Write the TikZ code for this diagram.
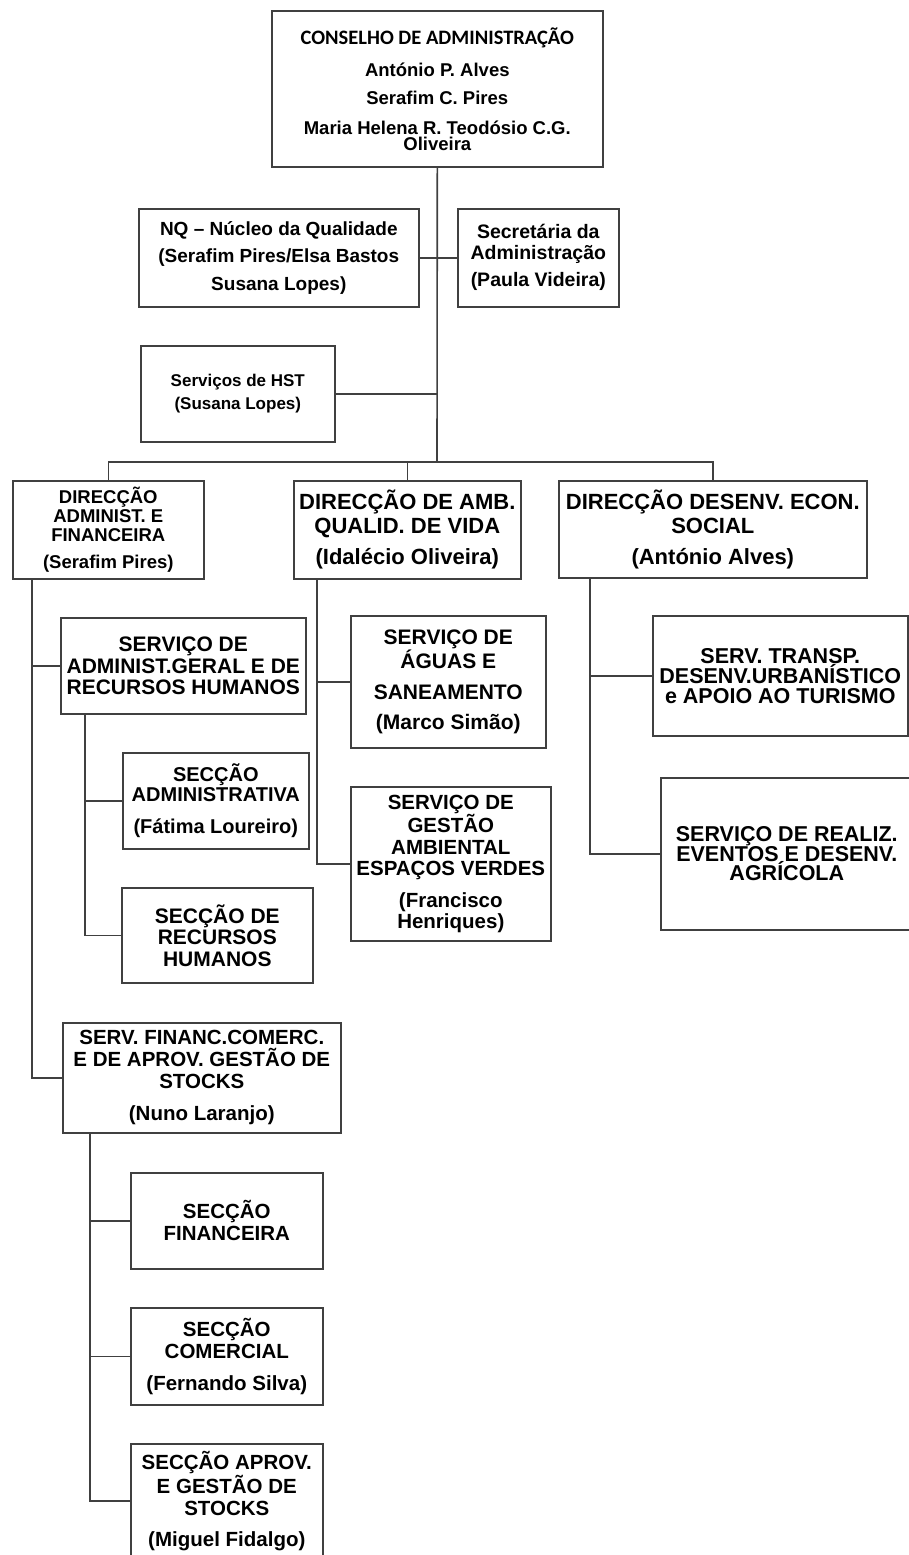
\documentclass[tikz,border=0pt]{standalone}
\usepackage{fontspec}
\setmainfont{Liberation Sans}
\newfontfamily\calfont{Carlito}
\begin{document}
\begin{tikzpicture}[x=1pt,y=-1pt,
	box/.style={draw=black!75,line width=1.6pt,anchor=north west,align=center,inner xsep=1pt,inner ysep=1pt},
	fs/.style 2 args={font=\fontsize{#1}{#2}\selectfont\bfseries},
	link/.style={draw=black!75,line width=1.6pt}]
\useasboundingbox (0,0) rectangle (908,1555);
\node[box,fs={18.5}{16},minimum width=331pt,minimum height=156pt] (cons) at (271,10)
	{{\calfont\fontsize{20.5}{16}\selectfont CONSELHO DE ADMINISTRAÇÃO}\\[14pt]António P. Alves\\[12pt]Serafim C. Pires\\[14pt]Maria Helena R. Teodósio C.G.\\Oliveira};
\node[box,fs={19}{19},minimum width=280pt,minimum height=98pt] (nq) at (138,208)
	{NQ – Núcleo da Qualidade\\[8pt](Serafim Pires/Elsa Bastos\\[9pt]Susana Lopes)};
\node[box,fs={19.5}{21},minimum width=161pt,minimum height=98pt] (sec) at (457,208)
	{Secretária da\\Administração\\[6pt](Paula Videira)};
\node[box,fs={17}{17},minimum width=194pt,minimum height=96pt] (hst) at (140,345)
	{Serviços de HST\\[6pt](Susana Lopes)};
\coordinate (bus) at (437,462);
\node[box,fs={18.5}{19},minimum width=191pt,minimum height=98pt] (dAF) at (12,480)
	{DIRECÇÃO\\ADMINIST. E\\FINANCEIRA\\[8pt](Serafim Pires)};
\node[box,fs={22}{22},minimum width=227pt,minimum height=98pt] (dAQ) at (293,480)
	{DIRECÇÃO DE AMB.\\[2pt]QUALID. DE VIDA\\[9pt](Idalécio Oliveira)};
\node[box,fs={22}{22},minimum width=308pt,minimum height=97pt] (dDE) at (558,480)
	{DIRECÇÃO DESENV. ECON.\\[2pt]SOCIAL\\[9pt](António Alves)};
\node[box,fs={21}{21.5},minimum width=245pt,minimum height=96pt] (sagr) at (60,617)
	{SERVIÇO DE\\ADMINIST.GERAL E DE\\RECURSOS HUMANOS};
\node[box,fs={20}{20},minimum width=186pt,minimum height=96pt] (secadm) at (122,752)
	{SECÇÃO\\ADMINISTRATIVA\\[12pt](Fátima Loureiro)};
\node[box,fs={21}{21.5},minimum width=191pt,minimum height=95pt] (secrh) at (121,887)
	{SECÇÃO DE\\RECURSOS\\HUMANOS};
\node[box,fs={21}{20},minimum width=195pt,minimum height=132pt] (agu) at (350,615)
	{SERVIÇO DE\\ÁGUAS E\\[11pt]SANEAMENTO\\[10pt](Marco Simão)};
\node[box,fs={20.5}{21.5},minimum width=200pt,minimum height=154pt] (gam) at (350,786)
	{SERVIÇO DE\\GESTÃO\\AMBIENTAL\\ESPAÇOS VERDES\\[10pt](Francisco\\Henriques)};
\node[box,fs={21.5}{20},minimum width=255pt,minimum height=120pt] (tra) at (652,615)
	{SERV. TRANSP.\\DESENV.URBANÍSTICO\\e APOIO AO TURISMO};
\node[box,fs={21.5}{19.5},minimum width=252pt,minimum height=152pt] (rea) at (660,777)
	{SERVIÇO DE REALIZ.\\EVENTOS E DESENV.\\AGRÍCOLA};
\node[box,fs={20.5}{22},minimum width=278pt,minimum height=110pt] (sfin) at (62,1022)
	{SERV. FINANC.COMERC.\\E DE APROV. GESTÃO DE\\STOCKS\\[10pt](Nuno Laranjo)};
\node[box,fs={20.5}{22},minimum width=192pt,minimum height=96pt] (secfin) at (130,1172)
	{SECÇÃO\\FINANCEIRA};
\node[box,fs={20.5}{22},minimum width=192pt,minimum height=97pt] (seccom) at (130,1307)
	{SECÇÃO\\COMERCIAL\\[10pt](Fernando Silva)};
\node[box,fs={20.5}{22.5},minimum width=192pt,minimum height=114pt] (secapr) at (130,1443)
	{SECÇÃO APROV.\\E GESTÃO DE\\STOCKS\\[8pt](Miguel Fidalgo)};

\draw[link] (cons.south) -- (bus);
\draw[link] (nq.east) -- (sec.west);
\draw[link] (hst.east) -- (hst.east -| bus);
\draw[link] (dAF.north) |- (bus) -| (dDE.north);
\draw[link] (dAQ.north) -- (dAQ.north |- bus);
\coordinate (lAF) at ([xshift=20pt]dAF.south west);
\draw[link] (lAF) |- (sfin.west);
\draw[link] (lAF |- sagr.west) -- (sagr.west);
\coordinate (lagr) at ([xshift=25pt]sagr.south west);
\draw[link] (lagr) |- (secrh.west);
\draw[link] (lagr |- secadm.west) -- (secadm.west);
\coordinate (lAQ) at ([xshift=24pt]dAQ.south west);
\draw[link] (lAQ) |- (gam.west);
\draw[link] (lAQ |- agu.west) -- (agu.west);
\coordinate (lDE) at ([xshift=32pt]dDE.south west);
\draw[link] (lDE) |- (rea.west);
\draw[link] (lDE |- tra.west) -- (tra.west);
\coordinate (lsfin) at ([xshift=28pt]sfin.south west);
\draw[link] (lsfin) |- (secapr.west);
\draw[link] (lsfin |- secfin.west) -- (secfin.west);
\draw[link] (lsfin |- seccom.west) -- (seccom.west);
\end{tikzpicture}
\end{document}
